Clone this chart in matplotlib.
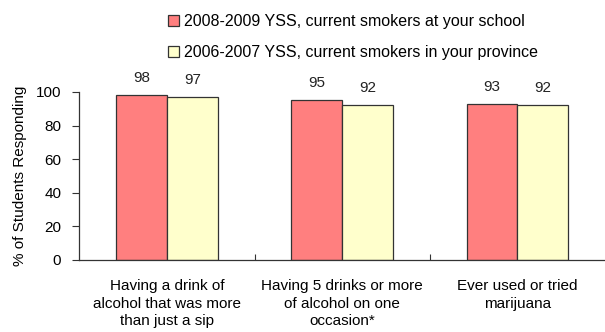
import matplotlib
matplotlib.use("Agg")
import matplotlib.pyplot as plt
import numpy as np

categories = [
    "Having a drink of\nalcohol that was more\nthan just a sip",
    "Having 5 drinks or more\nof alcohol on one\noccasion*",
    "Ever used or tried\nmarijuana",
]
school_2008 = [98, 95, 93]
province_2006 = [97, 92, 92]
series_labels = [
    "2008-2009 YSS, current smokers at your school",
    "2006-2007 YSS, current smokers in your province",
]
y_ticks = [0, 20, 40, 60, 80, 100]

plt.rcParams["font.family"] = ["Liberation Sans", "DejaVu Sans"]
plt.rcParams["font.size"] = 11

fig = plt.figure(figsize=(6.05, 3.32), dpi=100)
ax = fig.add_axes([0.131, 0.217, 0.869, 0.506])

x = np.arange(len(categories))
width = 0.29
red = ax.bar(x - width / 2, school_2008, width, color="#FF7F7F",
             edgecolor="#333333", linewidth=0.9, label=series_labels[0])
yel = ax.bar(x + width / 2, province_2006, width, color="#FFFFCC",
             edgecolor="#333333", linewidth=0.9, label=series_labels[1])

for bars, vals in ((red, school_2008), (yel, province_2006)):
    for b, v in zip(bars, vals):
        ax.text(b.get_x() + b.get_width() / 2, v + 6, f"{v}",
                ha="center", va="bottom", fontsize=11, color="#222222",
                clip_on=False)

ax.set_xlim(-0.5, len(categories) - 0.5)
ax.set_ylim(0, 100)
ax.set_yticks(y_ticks)
ax.set_ylabel("% of Students Responding", fontsize=11, labelpad=6)

# category separators as ticks between groups
ax.set_xticks([0.5, 1.5])
ax.set_xticklabels([])
ax.set_xticks(x, minor=True)
ax.set_xticklabels(categories, minor=True, fontsize=11, linespacing=1.3)
ax.tick_params(axis="x", which="minor", length=0, pad=14)
ax.tick_params(axis="x", which="major", length=4, direction="in", color="#333333")
ax.tick_params(axis="y", length=5, color="#333333", labelsize=11, pad=8)

for side in ("top", "right"):
    ax.spines[side].set_visible(False)
for side in ("left", "bottom"):
    ax.spines[side].set_color("#333333")
    ax.spines[side].set_linewidth(0.9)

fig.legend(handles=[red, yel], loc="upper center", bbox_to_anchor=(0.583, 1.0),
           ncol=1, frameon=False, fontsize=11.5, handlelength=0.7,
           handleheight=0.7, handletextpad=0.3, labelspacing=1.0)

fig.savefig("out.png", dpi=100)
